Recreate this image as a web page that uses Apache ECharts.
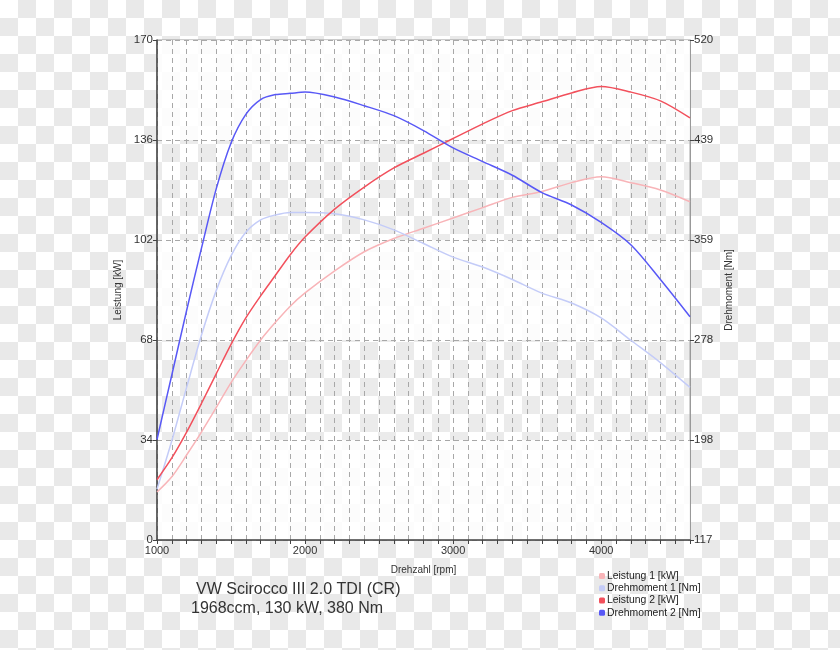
<!DOCTYPE html>
<html>
<head>
<meta charset="utf-8">
<script src="https://cdn.jsdelivr.net/npm/echarts@6/dist/echarts.min.js"></script>
<style>
html,body{margin:0;padding:0;}
body{width:840px;height:650px;background:repeating-conic-gradient(#e9e9e9 0 25%, #ffffff 0 50%) 0 0/36px 36px;}
#chart{width:840px;height:650px;}
</style>
</head>
<body>
<div id="chart"></div>
<script>
// Drehzahl [rpm]
const rpm = [1000,1100,1200,1300,1400,1500,1600,1700,1800,1900,2000,2200,2400,2600,2800,3000,3200,3400,3600,3800,4000,4200,4400,4600];
// Leistung 1 [kW]
const leistung1 = [16.3,21.5,28.9,36.7,45,53.5,61,68,74,79.5,84,91.5,98,102.5,106,109.5,113,116.5,118.5,121.5,123.5,121.5,119,115];
// Drehmoment 1 [Nm]
const drehmoment1 = [158,197,240,282,318,346,365,375,379,381,381,380,375,367,356,345,337,327,316,308,296,278,260,240];
// Leistung 2 [kW]
const leistung2 = [20.5,27.9,36.7,46.4,56.5,66.5,75.5,83,90,97,103,112.5,120,126.5,131.5,136.5,141.5,146,149,152,154.2,152.3,149.3,143.5];
// Drehmoment 2 [Nm]
const drehmoment2 = [198,250,302,352,400,437,460,472,476,477,478,474,467,459,447,433,422,411,397,387,373,355,327,297];

const seriesNames = ['Leistung 1 [kW]','Drehmoment 1 [Nm]','Leistung 2 [kW]','Drehmoment 2 [Nm]'];
const leftTicks = {min:0, max:170, interval:34};
const rightTicks = {min:117, max:520, interval:80.6};
const titleLines = ['VW Scirocco III 2.0 TDI (CR)','1968ccm, 130 kW, 380 Nm'];

const pair = (ys) => rpm.map((x,i)=>[x, ys[i]]);
const font = 'Liberation Sans, Arial, sans-serif';
const dashed = {show:true, lineStyle:{color:'#a8a8a8', type:[5,4], width:1}};

const chart = echarts.init(document.getElementById('chart'), null, {renderer:'canvas'});
chart.setOption({
  backgroundColor:'transparent',
  animation:false,
  textStyle:{fontFamily:font},
  grid:{left:157, right:150, top:40, bottom:110, show:true, borderColor:'#999', borderWidth:1, backgroundColor:'transparent'},
  legend:{
    data:seriesNames, orient:'vertical', left:599, top:570, padding:0,
    icon:'roundRect', itemWidth:6, itemHeight:6, itemGap:0,
    textStyle:{fontSize:10.4, color:'#222', lineHeight:12.2, fontFamily:font, padding:[0,0,0,-3]}
  },
  xAxis:{
    type:'value', min:1000, max:4600, interval:100,
    name:'Drehzahl [rpm]', nameLocation:'middle', nameGap:25,
    nameTextStyle:{fontSize:10, color:'#333'},
    axisLine:{show:true, lineStyle:{color:'#444', width:1.5}},
    axisTick:{show:true, length:4, lineStyle:{color:'#444'}},
    axisLabel:{fontSize:11, color:'#333', margin:5, formatter:(v)=> (v%1000===0 ? String(v) : '')},
    splitLine:dashed
  },
  yAxis:[{
    type:'value', min:leftTicks.min, max:leftTicks.max, interval:leftTicks.interval,
    name:'Leistung [kW]', nameLocation:'middle', nameGap:25,
    nameTextStyle:{fontSize:10, color:'#333'},
    axisLine:{show:true, lineStyle:{color:'#444', width:1.5}},
    axisTick:{show:true, length:4, lineStyle:{color:'#444'}},
    axisLabel:{fontSize:11.5, color:'#333', margin:4},
    splitLine:dashed,
    splitArea:{show:true, areaStyle:{color:['rgba(255,255,255,0.85)','rgba(255,255,255,0.12)']}}
  },{
    type:'value', position:'right', min:rightTicks.min, max:rightTicks.max, interval:rightTicks.interval,
    name:'Drehmoment [Nm]', nameLocation:'middle', nameGap:24,
    nameTextStyle:{fontSize:10, color:'#333'},
    axisLine:{show:true, lineStyle:{color:'#999', width:1}},
    axisTick:{show:true, length:4, lineStyle:{color:'#444'}},
    axisLabel:{fontSize:11.5, color:'#333', margin:4, formatter:(v)=>String(Math.round(v))},
    splitLine:{show:false}
  }],
  graphic:[
    {type:'text', left:196, top:582, style:{text:titleLines[0], font:'16px '+font, fill:'#333'}},
    {type:'text', left:191, top:601, style:{text:titleLines[1], font:'16px '+font, fill:'#333'}}
  ],
  series:[
    {name:seriesNames[0], type:'line', yAxisIndex:0, data:pair(leistung1), smooth:0.3, showSymbol:false, color:'#f8b4b8', lineStyle:{width:1.5}},
    {name:seriesNames[1], type:'line', yAxisIndex:1, data:pair(drehmoment1), smooth:0.3, showSymbol:false, color:'#c4ccf8', lineStyle:{width:1.5}},
    {name:seriesNames[2], type:'line', yAxisIndex:0, data:pair(leistung2), smooth:0.3, showSymbol:false, color:'#f2505c', lineStyle:{width:1.5}},
    {name:seriesNames[3], type:'line', yAxisIndex:1, data:pair(drehmoment2), smooth:0.3, showSymbol:false, color:'#5858f6', lineStyle:{width:1.5}}
  ]
});
</script>
</body>
</html>
